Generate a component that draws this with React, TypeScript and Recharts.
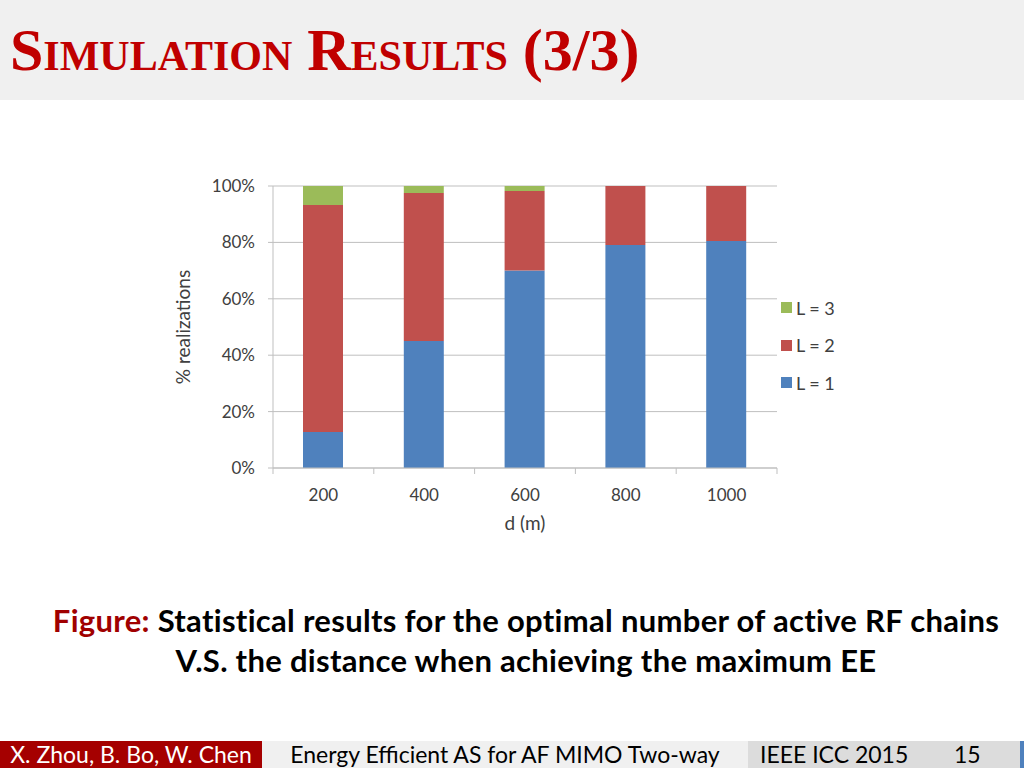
import { BarChart, Bar, XAxis, YAxis, CartesianGrid } from 'recharts';

const distances = ['200', '400', '600', '800', '1000'];
const l1Values = [12.8, 45.0, 70.0, 79.1, 80.5];
const l2Values = [80.5, 52.5, 28.2, 20.9, 19.5];
const l3Values = [6.7, 2.5, 1.8, 0, 0];
const yTicks = [0, 20, 40, 60, 80, 100];

const SERIES = [
  { key: 'l1', name: 'L = 1', color: '#4f81bd' },
  { key: 'l2', name: 'L = 2', color: '#c0504d' },
  { key: 'l3', name: 'L = 3', color: '#9bbb59' },
];

const data = distances.map((d, i) => ({
  d,
  l1: l1Values[i],
  l2: l2Values[i],
  l3: l3Values[i],
}));

const FONT = 'Lato, "Open Sans", sans-serif';
const AXIS_GRAY = '#bfbfbf';
const BAND = 504 / distances.length;

function XTick(props: any) {
  const { x, y, payload, index } = props;
  const last = index === distances.length - 1;
  return (
    <g>
      <line x1={x - BAND / 2} y1={y} x2={x - BAND / 2} y2={y + 6} stroke={AXIS_GRAY} />
      {last && <line x1={x + BAND / 2} y1={y} x2={x + BAND / 2} y2={y + 6} stroke={AXIS_GRAY} />}
      <text x={x} y={y + 33} textAnchor="middle" fill="#404040" fontSize={17} fontFamily={FONT}>
        {payload.value}
      </text>
    </g>
  );
}

function YLabel(props: any) {
  const { viewBox } = props;
  const cx = viewBox.x + 22;
  const cy = viewBox.y + viewBox.height / 2;
  return (
    <text
      x={cx}
      y={cy}
      transform={`rotate(-90 ${cx} ${cy})`}
      textAnchor="middle"
      dominantBaseline="central"
      fill="#404040"
      fontSize={19}
      fontFamily={FONT}
    >
      % realizations
    </text>
  );
}

export default function App() {
  return (
    <div style={{ position: 'absolute', left: 0, top: 0, width: 1024, height: 768, background: '#fff', overflow: 'hidden' }}>
      {/* header band */}
      <div style={{ position: 'absolute', left: 0, top: 0, width: 1024, height: 100, background: '#f0f0f0' }} />
      <div
        style={{
          position: 'absolute',
          left: 10,
          top: 16,
          fontFamily: '"Liberation Serif", "Times New Roman", serif',
          fontWeight: 'bold',
          fontSize: 60,
          lineHeight: '68px',
          fontVariant: 'small-caps',
          color: '#c00000',
          whiteSpace: 'nowrap',
        }}
      >
        Simulation Results (3/3)
      </div>

      <div style={{ position: 'absolute', left: 160, top: 170 }}>
        <BarChart
          width={700}
          height={368}
          data={data}
          margin={{ top: 16, right: 83, bottom: 0, left: 0 }}
          barSize={40}
        >
          <CartesianGrid vertical={false} stroke={AXIS_GRAY} strokeWidth={1} />
          <XAxis
            dataKey="d"
            height={70}
            stroke={AXIS_GRAY}
            tickLine={false}
            tickSize={0}
            tickMargin={0}
            tick={<XTick />}
            interval={0}
            label={{ value: 'd (m)', position: 'insideBottom', offset: 8, fill: '#404040', fontSize: 19, fontFamily: FONT }}
          />
          <YAxis
            width={113}
            domain={[0, 100]}
            ticks={yTicks}
            tickFormatter={(v: number) => `${v}%`}
            stroke={AXIS_GRAY}
            tickSize={5}
            tickMargin={13}
            tick={{ fill: '#404040', fontSize: 17, fontFamily: FONT }}
            allowDataOverflow
            label={{ content: <YLabel /> }}
          />
          {SERIES.map((s) => (
            <Bar key={s.key} dataKey={s.key} name={s.name} stackId="a" fill={s.color} isAnimationActive={false} />
          ))}
        </BarChart>
      </div>

      {/* legend */}
      <div style={{ position: 'absolute', left: 781, top: 289, fontFamily: FONT, fontSize: 18, color: '#404040' }}>
        {[...SERIES].reverse().map((s) => (
          <div key={s.key} style={{ display: 'flex', alignItems: 'center', height: 37.5 }}>
            <span style={{ display: 'inline-block', width: 11, height: 11, background: s.color, marginRight: 4 }} />
            {s.name}
          </div>
        ))}
      </div>

      {/* caption */}
      <div
        style={{
          position: 'absolute',
          left: 0,
          top: 600,
          width: 1052,
          textAlign: 'center',
          fontFamily: FONT,
          fontWeight: 'bold',
          fontSize: 31,
          letterSpacing: 0.3,
          lineHeight: '40px',
          color: '#000',
          whiteSpace: 'nowrap',
        }}
      >
        <div>
          <span style={{ color: '#a00000' }}>Figure: </span>Statistical results for the optimal number of active RF chains
        </div>
        <div>V.S. the distance when achieving the maximum EE</div>
      </div>

      {/* footer */}
      <div style={{ position: 'absolute', left: 0, top: 741, width: 1024, height: 27, fontFamily: FONT, fontSize: 23 }}>
        <div style={{ position: 'absolute', left: 0, top: 0, width: 262, height: 27, background: '#a50000', color: '#fff', textAlign: 'center', lineHeight: '27px', whiteSpace: 'nowrap' }}>
          X. Zhou, B. Bo, W. Chen
        </div>
        <div style={{ position: 'absolute', left: 262, top: 0, width: 486, height: 27, background: '#f0f0f0', color: '#000', textAlign: 'center', lineHeight: '27px', whiteSpace: 'nowrap' }}>
          Energy Efficient AS for AF MIMO Two-way
        </div>
        <div style={{ position: 'absolute', left: 748, top: 0, width: 272, height: 27, background: '#dcdcdc', color: '#000', lineHeight: '27px', whiteSpace: 'nowrap' }}>
          <span style={{ position: 'absolute', left: 12 }}>IEEE ICC 2015</span>
          <span style={{ position: 'absolute', left: 206 }}>15</span>
        </div>
        <div style={{ position: 'absolute', left: 1020, top: 0, width: 4, height: 27, background: '#4f81bd' }} />
      </div>
    </div>
  );
}
